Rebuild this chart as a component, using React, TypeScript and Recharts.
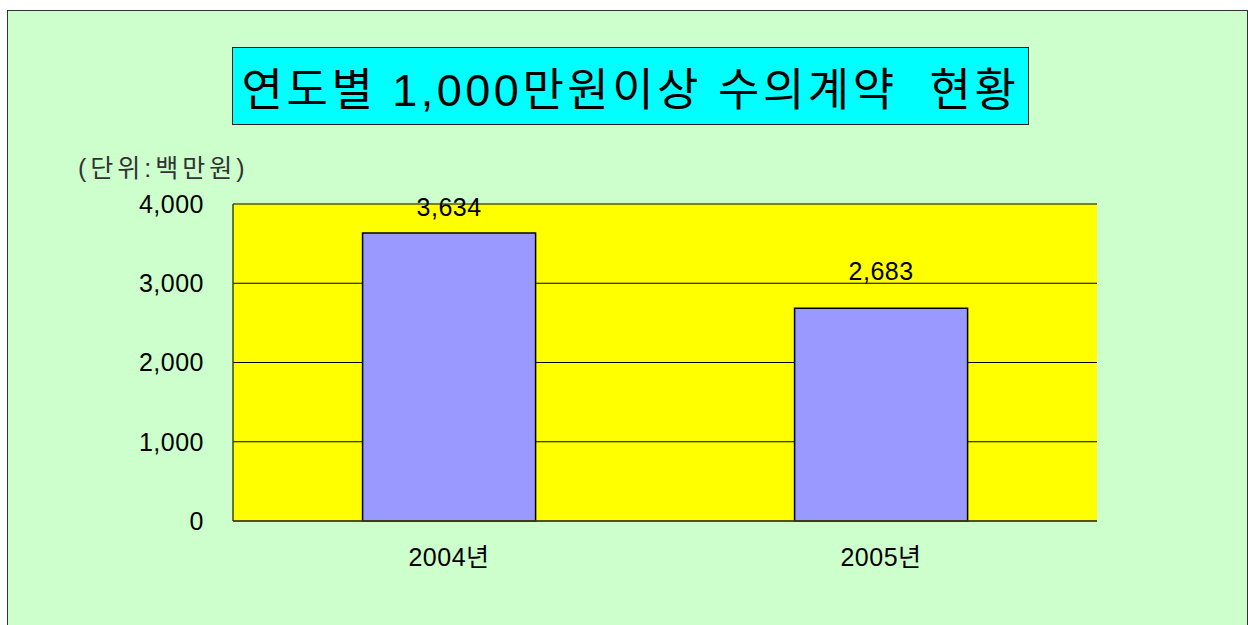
import React from 'react';
import { BarChart, Bar, XAxis, YAxis, CartesianGrid, LabelList } from 'recharts';

const years = ['2004년', '2005년'];
const amounts = [3634, 2683];
const yTicks = [0, 1000, 2000, 3000, 4000];

const data = years.map((year, i) => ({ year, amount: amounts[i] }));

const FONT = "'Liberation Sans', 'Noto Sans CJK KR', sans-serif";
const fmt = (v: number) => v.toLocaleString('en-US');

// value label above bar; kept inside the plot like the original
const ValueLabel = (props: any) => {
  const { x, y, width, value } = props;
  const baseline = Math.max(y - 28, 216);
  return (
    <text
      x={x + width / 2}
      y={baseline}
      textAnchor="middle"
      fill="#000"
      fontSize={25}
      fontFamily={FONT}
      letterSpacing={0.5}
    >
      {fmt(Number(value))}
    </text>
  );
};

const App: React.FC = () => {
  return (
    <div style={{ position: 'absolute', left: 0, top: 0, width: 1248, height: 625, overflow: 'hidden', fontFamily: FONT }}>
      {/* outer frame */}
      <div
        style={{
          position: 'absolute',
          left: 7,
          top: 10,
          width: 1239,
          height: 640,
          background: '#CCFFCC',
          border: '1px solid #333',
        }}
      />
      <div style={{ position: 'absolute', left: 0, top: 0 }}>
        <BarChart
          width={1248}
          height={625}
          data={data}
          margin={{ top: 204, right: 151, left: 173, bottom: 74 }}
          barCategoryGap="30%"
        >
          <CartesianGrid fill="#FFFF00" stroke="#000" vertical={false} horizontalValues={yTicks} />
          <XAxis
            dataKey="year"
            height={30}
            axisLine={{ stroke: '#444411', strokeWidth: 1.5 }}
            tickLine={false}
            tickSize={0}
            tickMargin={27}
            tick={{ fill: '#000', fontSize: 25, fontFamily: FONT, letterSpacing: 0.5 }}
          />
          <YAxis
            width={60}
            domain={[0, 4000]}
            ticks={yTicks}
            interval={0}
            axisLine={{ stroke: '#444411', strokeWidth: 1.5 }}
            tickLine={false}
            tickSize={0}
            tickMargin={29}
            tickFormatter={fmt}
            tick={{ fill: '#000', fontSize: 25, fontFamily: FONT, letterSpacing: 0.5 }}
          />
          <Bar dataKey="amount" fill="#9999FF" stroke="#000" strokeWidth={1.5} isAnimationActive={false}>
            <LabelList dataKey="amount" content={ValueLabel} />
          </Bar>
        </BarChart>
      </div>
      {/* title box */}
      <div
        style={{
          position: 'absolute',
          left: 232,
          top: 47,
          width: 795,
          height: 76,
          background: '#00FFFF',
          border: '1px solid #222',
          display: 'flex',
          alignItems: 'center',
          justifyContent: 'center',
          fontSize: 45,
          letterSpacing: 3.5,
          whiteSpace: 'pre',
          color: '#000',
        }}
      >
        {'연도별 1,000만원이상 수의계약  현황'}
      </div>
      {/* unit label */}
      <div
        style={{
          position: 'absolute',
          left: 78,
          top: 148,
          fontSize: 25,
          letterSpacing: 4,
          color: '#333',
          whiteSpace: 'pre',
        }}
      >
        (단위:백만원)
      </div>
    </div>
  );
};

export default App;
